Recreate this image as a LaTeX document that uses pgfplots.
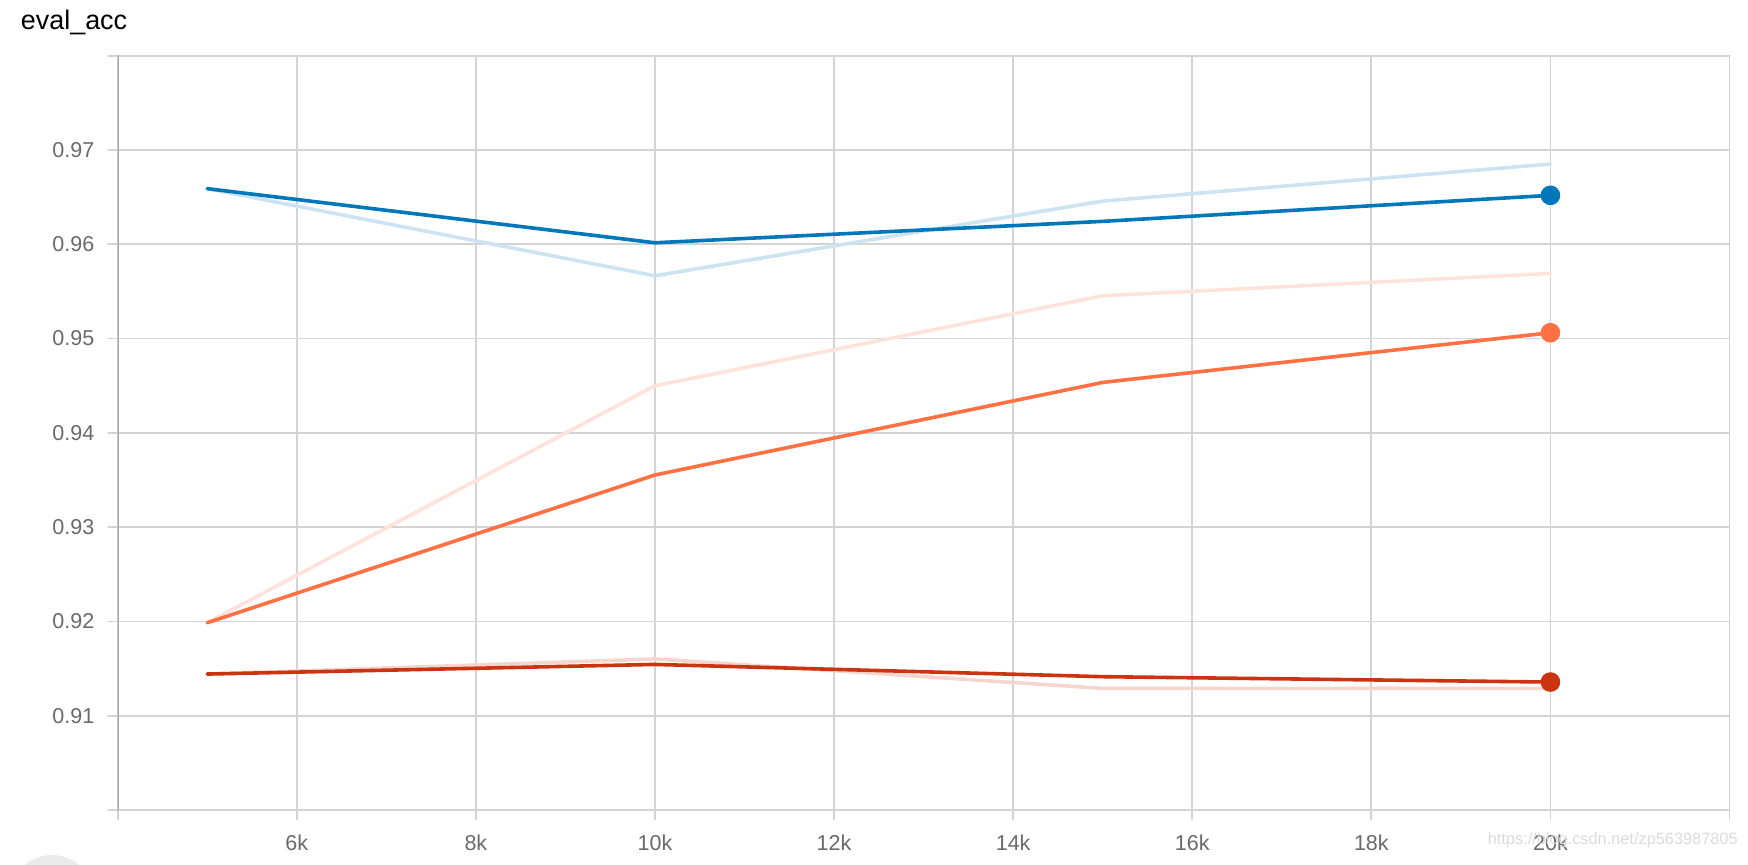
\documentclass[border=0pt]{standalone}
\usepackage{fontspec}
\setmainfont{Liberation Sans}
\usepackage{pgfplots}
\pgfplotsset{compat=1.18}
\definecolor{tbblue}{HTML}{0077BB}
\definecolor{tborange}{HTML}{FF7043}
\definecolor{tbred}{HTML}{CC3311}
\definecolor{gridc}{HTML}{D4D4D4}
\definecolor{axisc}{HTML}{A8A8A8}
\definecolor{labc}{HTML}{6A6A6A}
\begin{document}
\begin{tikzpicture}[x=1bp,y=1bp]
\useasboundingbox (0,0) rectangle (874,432);
\fill[black!8] (26,-17) circle (21.5);
\node[anchor=base west, inner sep=0pt, font=\fontsize{13.5}{16}\selectfont] at (10.3,417) {eval\_acc};
\begin{axis}[
  at={(58.85bp,27bp)}, anchor=south west, scale only axis,
  width=805.9bp, height=377.15bp,
  xmin=4000, xmax=22000, ymin=0.90, ymax=0.98,
  xtick={4000,6000,8000,10000,12000,14000,16000,18000,20000,22000},
  xticklabels={{},6k,8k,10k,12k,14k,16k,18k,20k,{}},
  ytick={0.90,0.91,0.92,0.93,0.94,0.95,0.96,0.97,0.98},
  yticklabels={{},0.91,0.92,0.93,0.94,0.95,0.96,0.97,{}},
  grid=major,
  major grid style={gridc, line width=0.9bp},
  axis line style={gridc, line width=0.9bp},
  tick style={gridc, line width=0.9bp},
  tick align=outside, major tick length=4.8bp, tick pos=left,
  ticklabel style={font=\fontsize{10.8}{12}\selectfont, text=labc, inner sep=0pt},
  yticklabel style={anchor=east, xshift=-6.7bp},
  xticklabel style={anchor=north, yshift=-7.2bp},
  line join=round, line cap=round,
]
\draw[axisc, line width=0.9bp] (rel axis cs:0,0) -- (rel axis cs:0,1);
% raw (unsmoothed) runs
\addplot[tbblue!20, line width=1.8bp, mark=none] coordinates {(5000,0.9659) (10000,0.95666) (15000,0.96458) (20000,0.96851)};
\addplot[tborange!20, line width=1.8bp, mark=none] coordinates {(5000,0.91986) (10000,0.94500) (15000,0.95454) (20000,0.95691)};
\addplot[tbred!20, line width=1.8bp, mark=none] coordinates {(5000,0.91442) (10000,0.91602) (15000,0.91290) (20000,0.91290)};
% smoothed runs
\addplot[tbblue, line width=1.8bp, mark=*, mark indices={4}, mark size=4bp, mark options={fill=tbblue, draw=none}] coordinates {(5000,0.9659) (10000,0.96016) (15000,0.96243) (20000,0.96519)};
\addplot[tborange, line width=1.8bp, mark=*, mark indices={4}, mark size=4bp, mark options={fill=tborange, draw=none}] coordinates {(5000,0.91986) (10000,0.93553) (15000,0.94535) (20000,0.95062)};
\addplot[tbred, line width=1.8bp, mark=*, mark indices={4}, mark size=4bp, mark options={fill=tbred, draw=none}] coordinates {(5000,0.91442) (10000,0.91544) (15000,0.91414) (20000,0.91357)};
\end{axis}
\node[anchor=east, inner sep=0pt, text=black!14, font=\fontsize{8.2}{10}\selectfont] at (869,12) {https://blog.csdn.net/zp563987805};
\end{tikzpicture}
\end{document}
